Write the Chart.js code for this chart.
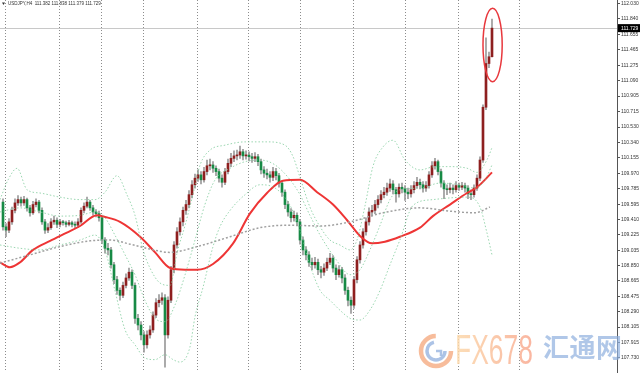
<!DOCTYPE html>
<html>
<head>
<meta charset="utf-8">
<script src="https://cdn.jsdelivr.net/npm/chart.js@4.4.1/dist/chart.umd.min.js"></script>
<style>
	html, body { margin: 0; padding: 0; background: #fff; }
	#wrap { position: relative; width: 640px; height: 386px; overflow: hidden; }
	#wm { position: absolute; left: 0; top: 0; width: 640px; height: 386px; pointer-events: none; }
	#logo { position: absolute; left: 417px; top: 332px; }
	#fx { position: absolute; left: 455px; top: 329px; font: 42px/1 "Liberation Sans", Arial, sans-serif;
		transform: scaleX(0.63); transform-origin: 0 0; white-space: nowrap;
		background: linear-gradient(90deg, #fcd9ab, #f9a990); -webkit-background-clip: text; background-clip: text; color: transparent; opacity: 0.85; }
	#ht { position: absolute; left: 543px; top: 333px; font: bold 26px/1 "Noto Sans CJK SC", sans-serif;
		color: #8fb0de; opacity: 0.7; letter-spacing: 0.5px; white-space: nowrap; }
</style>
</head>
<body>
<div id="wrap">
	<canvas id="myChart" width="640" height="386"></canvas>
	<div id="wm">
		<svg id="logo" width="38" height="38" viewBox="0 0 38 38">
			<circle cx="19" cy="19" r="15" fill="none" stroke="#f6b08a" stroke-width="4.5" stroke-dasharray="70 25" opacity="0.85"/>
			<circle cx="19" cy="19" r="9" fill="none" stroke="#9db8e2" stroke-width="3.5" stroke-dasharray="40 17" opacity="0.85"/>
			<path d="M19 19 L24 19 L24 24" fill="none" stroke="#9db8e2" stroke-width="2.5" opacity="0.85"/>
		</svg>
		<span id="fx">FX678</span>
		<span id="ht">汇通网</span>
	</div>
</div>
<script>
// USDJPY H4 candles (open = previous close)
const symbol = "USDJPY,H4";
const firstOpen = 109.62;
const closes = [
	109.32,109.28,109.38,109.52,109.61,109.65,109.61,109.65,109.55,109.49,
	109.59,109.62,109.52,109.38,109.28,109.31,109.38,109.40,109.35,109.38,
	109.37,109.35,109.37,109.35,109.34,109.38,109.52,109.57,109.62,109.55,
	109.50,109.48,109.43,109.16,109.06,109.04,108.86,108.68,108.55,108.49,
	108.61,108.70,108.77,108.61,108.21,108.13,108.01,107.89,108.01,108.07,
	108.25,108.40,108.43,108.46,108.01,108.43,108.80,109.10,109.26,109.38,
	109.52,109.59,109.71,109.83,109.91,109.95,109.89,109.99,110.06,110.07,
	110.03,109.99,109.91,109.86,109.99,110.09,110.15,110.18,110.19,110.23,
	110.18,110.19,110.17,110.15,110.17,110.11,110.01,109.97,109.95,109.92,
	109.99,109.94,109.85,109.74,109.59,109.50,109.43,109.46,109.38,109.16,
	109.04,108.98,108.89,108.86,108.89,108.80,108.77,108.82,108.89,108.94,
	108.82,108.74,108.80,108.70,108.55,108.43,108.37,108.68,108.92,109.10,
	109.26,109.38,109.50,109.52,109.59,109.65,109.71,109.74,109.79,109.84,
	109.77,109.72,109.80,109.78,109.74,109.72,109.77,109.82,109.86,109.83,
	109.79,109.82,109.95,110.06,110.11,109.99,109.85,109.78,109.77,109.79,
	109.77,109.82,109.80,109.82,109.79,109.72,109.71,109.79,109.91,110.13,
	110.77,111.30,111.382,111.729
];
const highs = [
	109.66,109.36,109.42,109.56,109.66,109.70,109.68,109.69,109.67,109.58,
	109.63,109.66,109.64,109.55,109.41,109.36,109.42,109.45,109.43,109.41,
	109.40,109.39,109.40,109.39,109.38,109.42,109.55,109.61,109.68,109.64,
	109.58,109.53,109.51,109.45,109.19,109.12,109.07,108.89,108.72,108.58,
	108.65,108.75,108.82,108.80,108.64,108.26,108.17,108.05,108.06,108.12,
	108.29,108.45,108.50,108.52,108.50,108.47,108.84,109.14,109.31,109.43,
	109.56,109.64,109.76,109.88,109.96,110.01,109.99,110.04,110.13,110.14,
	110.11,110.06,110.02,109.95,110.03,110.14,110.21,110.24,110.25,110.30,
	110.26,110.24,110.23,110.21,110.22,110.20,110.14,110.05,110.02,109.99,
	110.04,110.03,109.97,109.88,109.77,109.63,109.54,109.51,109.49,109.41,
	109.20,109.08,109.02,108.94,108.95,108.93,108.84,108.87,108.94,109.00,
	108.97,108.86,108.85,108.83,108.74,108.59,108.47,108.72,108.96,109.14,
	109.30,109.43,109.55,109.58,109.64,109.70,109.76,109.80,109.85,109.90,
	109.88,109.80,109.84,109.85,109.82,109.79,109.82,109.87,109.92,109.90,
	109.87,109.87,109.99,110.11,110.15,110.13,110.02,109.88,109.83,109.85,
	109.83,109.87,109.85,109.86,109.85,109.82,109.77,109.83,109.95,110.17,
	110.80,111.61,111.44,111.838
];
const lows = [
	109.28,109.20,109.25,109.35,109.49,109.58,109.57,109.58,109.51,109.45,
	109.47,109.56,109.49,109.35,109.24,109.25,109.29,109.35,109.31,109.32,
	109.34,109.32,109.33,109.32,109.30,109.31,109.36,109.49,109.55,109.52,
	109.46,109.44,109.39,109.12,109.00,108.98,108.82,108.63,108.50,108.43,
	108.46,108.58,108.67,108.57,108.15,108.07,107.95,107.80,107.85,107.97,
	108.04,108.22,108.35,108.38,107.62,107.97,108.40,108.76,109.06,109.22,
	109.33,109.47,109.55,109.67,109.79,109.87,109.84,109.86,109.95,110.01,
	109.98,109.94,109.86,109.80,109.83,109.96,110.05,110.11,110.13,110.15,
	110.13,110.14,110.12,110.10,110.11,110.06,109.96,109.92,109.90,109.86,
	109.88,109.89,109.80,109.69,109.54,109.45,109.38,109.39,109.33,109.11,
	108.98,108.92,108.84,108.80,108.82,108.74,108.70,108.73,108.79,108.86,
	108.77,108.68,108.71,108.64,108.50,108.36,108.27,108.33,108.64,108.88,
	109.06,109.22,109.34,109.45,109.48,109.55,109.61,109.67,109.70,109.75,
	109.72,109.62,109.68,109.73,109.64,109.66,109.68,109.73,109.79,109.78,
	109.74,109.75,109.79,109.92,110.02,109.95,109.80,109.66,109.71,109.73,
	109.72,109.74,109.76,109.77,109.74,109.66,109.65,109.68,109.76,109.88,
	110.10,110.74,111.25,111.379
];

// indicator lines, [bar index, price]
const maRed = [[-1,108.89],[2.3,108.83],[5.7,108.89],[10,109.04],[15.7,109.15],[21.3,109.25],[25.7,109.33],[31.3,109.46],[34,109.44],[39,109.38],[45.7,109.20],[50.7,109.01],[55.7,108.82],[60.7,108.80],[64.7,108.80],[70,108.87],[76.7,109.12],[82.3,109.48],[88,109.73],[93.3,109.88],[99,109.89],[104.7,109.74],[110,109.59],[114.7,109.40],[119,109.21],[123,109.12],[127.3,109.14],[132.3,109.20],[139,109.31],[143.3,109.45],[149,109.59],[154.7,109.73],[158,109.80],[163,109.98]];
const maGray = [[-1,108.88],[9,108.98],[19,109.08],[29,109.15],[35.7,109.16],[42.3,109.11],[49,109.05],[55.7,109.01],[64.7,109.08],[75.7,109.20],[85.7,109.31],[95.7,109.34],[105.7,109.33],[115.7,109.38],[126.7,109.49],[139,109.55],[149,109.51],[157.3,109.49],[162.3,109.56]];
const bbUpper = [[-1,109.65],[1.7,109.89],[4.7,110.03],[8,109.77],[12.3,109.73],[19,109.68],[25.7,109.65],[30.7,109.65],[34,109.74],[38,109.94],[41.3,109.71],[44,109.46],[46.7,109.04],[49,108.82],[52.3,108.64],[55.7,108.61],[58,109.00],[60.7,109.34],[63.3,109.71],[65.7,110.07],[69,110.25],[74,110.31],[80.7,110.35],[88,110.35],[94,110.31],[96.7,110.17],[99,109.92],[102.3,109.56],[105.7,109.32],[109,109.16],[112.3,109.10],[115.7,109.04],[118,109.16],[120.7,109.58],[123.3,110.05],[126.7,110.29],[130,110.37],[134,110.13],[139,110.01],[144,110.05],[149,110.05],[154.7,110.03],[158,109.98],[161.3,110.13],[163,110.28]];
const bbMid = [[-1,109.50],[5.7,109.55],[12.3,109.50],[19,109.45],[25.7,109.46],[30.7,109.50],[34,109.43],[37.3,109.22],[40.7,108.98],[44,108.74],[47.3,108.43],[50.7,108.21],[54,108.17],[57.3,108.37],[60.7,108.74],[64,109.16],[67.3,109.59],[70.7,109.89],[75.7,110.03],[80.7,110.11],[85.7,110.13],[90.7,110.07],[95.7,109.89],[99,109.71],[102.3,109.46],[105.7,109.22],[110.7,108.94],[115.7,108.74],[119,108.80],[122.3,109.04],[125.7,109.34],[129,109.65],[132.3,109.77],[139,109.79],[145.7,109.85],[152.3,109.83],[157.3,109.79],[160.7,109.89],[163,110.07]];
const bbLower = [[-1,109.10],[5.7,109.06],[12.3,109.04],[19,109.10],[25.7,109.16],[30.7,109.22],[34,109.04],[37.3,108.55],[40.7,108.07],[44,107.89],[47.3,107.73],[50.7,107.71],[54,107.77],[56.7,107.71],[59,107.68],[62.3,107.86],[64,108.23],[66.7,108.59],[70,109.08],[72.3,109.32],[75.7,109.52],[80.7,109.71],[85.7,109.83],[90.7,109.79],[95.7,109.58],[99,109.28],[102.3,108.86],[105.7,108.55],[109,108.43],[112.3,108.31],[115.7,108.21],[119,108.19],[122.3,108.31],[125.7,108.55],[129,108.86],[132.3,109.16],[136.7,109.58],[143.3,109.65],[154.7,109.68],[159,109.56],[161.3,109.25],[163,108.98]];

// axis
const yTicks = [112.030,111.840,111.655,111.465,111.275,111.090,110.905,110.715,110.530,110.340,110.155,109.970,109.785,109.595,109.410,109.225,109.035,108.850,108.665,108.475,108.290,108.105,107.915,107.730];
const daySeparators = [1,18.7,33,47,64.7,82,99.3,116.7,134.3,151.7,172.3];
// red ellipse round the last bars
const markIdx = 163.2, markSpan = 3.2, markHigh = 111.97, markLow = 111.08;

let opens = [], wicks = [], bodies = [], bodyColors = [];
for(let i=0; i<closes.length; i++){
	let o = i==0 ? firstOpen : closes[i-1];
	opens.push(o);
	wicks.push({x: i, y: [lows[i], highs[i]]});
	bodies.push({x: i, y: [o, closes[i]]});
	bodyColors.push(closes[i]>=o ? "#8e1f1f" : "#178a45");
}
const last = closes.length-1;
const header = symbol + "  " + opens[last].toFixed(3) + " " + highs[last].toFixed(3) + " " + lows[last].toFixed(3) + " " + closes[last].toFixed(3);

function pts(arr){
	return arr.map(p => ({x: p[0], y: p[1]}));
}
function lineSet(arr, color, width, dash){
	return {
		type: "line",
		data: pts(arr),
		borderColor: color,
		borderWidth: width,
		borderDash: dash,
		pointRadius: 0,
		cubicInterpolationMode: "monotone",
		fill: false,
		order: 0
	};
}

const overlay = {
	id: "overlay",
	beforeDatasetsDraw(chart){
		let ctx = chart.ctx, a = chart.chartArea;
		let y = Math.round(chart.scales.y.getPixelForValue(closes[last])) + 0.5;
		ctx.save();
		ctx.strokeStyle = "#c8c8c8";
		ctx.lineWidth = 1;
		ctx.beginPath();
		ctx.moveTo(a.left, y);
		ctx.lineTo(a.right, y);
		ctx.stroke();
		ctx.restore();
	},
	afterDraw(chart){
		let ctx = chart.ctx, a = chart.chartArea, xs = chart.scales.x, ys = chart.scales.y;
		ctx.save();
		// ellipse
		let cx = xs.getPixelForValue(markIdx);
		let rx = xs.getPixelForValue(markIdx+markSpan) - cx;
		let top = ys.getPixelForValue(markHigh), bot = ys.getPixelForValue(markLow);
		ctx.strokeStyle = "#e8383d";
		ctx.lineWidth = 1.5;
		ctx.beginPath();
		ctx.ellipse(cx, (top+bot)/2, rx, (bot-top)/2, 0, 0, Math.PI*2);
		ctx.stroke();
		// last price box
		let py = ys.getPixelForValue(closes[last]);
		ctx.fillStyle = "#000";
		ctx.fillRect(a.right+1, py-4, 22, 8);
		ctx.fillStyle = "#fff";
		ctx.font = "5px 'Liberation Sans', Arial, sans-serif";
		ctx.textBaseline = "middle";
		ctx.fillText(closes[last].toFixed(3), a.right+4, py);
		// header
		ctx.fillStyle = "#333";
		ctx.beginPath();
		ctx.moveTo(2, 2.5); ctx.lineTo(5, 2.5); ctx.lineTo(3.5, 5); ctx.closePath();
		ctx.fill();
		ctx.font = "4.5px 'Liberation Sans', Arial, sans-serif";
		ctx.fillText(header, 8, 4);
		ctx.restore();
	}
};

let ctx = document.getElementById("myChart");
let chart = new Chart(ctx, {
	type: "bar",
	data: {
		datasets: [
			lineSet(bbUpper, "rgba(120,200,150,0.75)", 1, [1.5,2]),
			lineSet(bbMid, "rgba(120,200,150,0.75)", 1, [1.5,2]),
			lineSet(bbLower, "rgba(120,200,150,0.75)", 1, [1.5,2]),
			lineSet(maGray, "#a0a0a0", 1.5, [2,2]),
			lineSet(maRed, "#ee3535", 2, []),
			{
				data: wicks,
				backgroundColor: "#9a9a9a",
				barThickness: 1,
				grouped: false,
				order: 2
			},
			{
				data: bodies,
				backgroundColor: bodyColors,
				barThickness: 2,
				minBarLength: 1,
				grouped: false,
				order: 1
			}
		]
	},
	options: {
		responsive: false,
		animation: false,
		devicePixelRatio: 1,
		layout: {padding: {left: 0, right: 0, top: 0, bottom: 14}},
		plugins: {legend: {display: false}, tooltip: {enabled: false}},
		scales: {
			x: {
				type: "linear",
				min: -1,
				max: 204.67,
				offset: false,
				afterBuildTicks: function(scale){
					scale.ticks = daySeparators.map(v => ({value: v}));
				},
				ticks: {display: false},
				grid: {color: "#8c8c8c", drawTicks: false, lineWidth: 1, offset: false},
				border: {display: false, dash: [1,2]}
			},
			y: {
				type: "linear",
				position: "right",
				min: 107.56,
				max: 112.07,
				afterBuildTicks: function(scale){
					scale.ticks = yTicks.map(v => ({value: v}));
				},
				afterFit: function(scale){
					scale.width = 23;
					scale.paddingTop = 0;
					scale.paddingBottom = 0;
				},
				ticks: {
					autoSkip: false,
					padding: 1,
					color: "#333",
					font: {size: 5, lineHeight: 0.2, family: "'Liberation Sans', Arial, sans-serif"},
					callback: function(v){ return v.toFixed(3); }
				},
				grid: {drawOnChartArea: false, drawTicks: true, tickLength: 3, color: "#555"},
				border: {display: true, color: "#555"}
			}
		}
	},
	plugins: [overlay]
});
</script>
</body>
</html>
